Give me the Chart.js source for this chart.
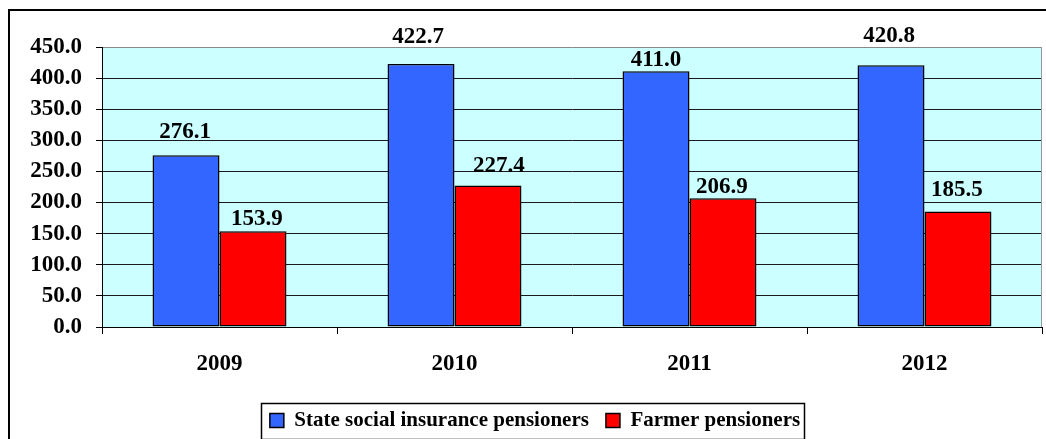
<!DOCTYPE html>
<html>
<head>
<meta charset="utf-8">
<script src="https://cdn.jsdelivr.net/npm/chart.js@4.4.1/dist/chart.umd.min.js"></script>
<style>
  html, body { margin: 0; padding: 0; background: #ffffff; }
  #wrap { width: 1046px; height: 439px; position: relative; }
</style>
</head>
<body>
<div id="wrap"><canvas id="c" width="1046" height="439"></canvas></div>
<script>
const categories = ['2009', '2010', '2011', '2012'];
const stateSocialInsurance = [276.1, 422.7, 411.0, 420.8];
const farmerPensioners = [153.9, 227.4, 206.9, 185.5];
const seriesNames = ['State social insurance pensioners', 'Farmer pensioners'];
const yTicks = [0, 50, 100, 150, 200, 250, 300, 350, 400, 450];

const FONT = '"Liberation Serif", "Times New Roman", serif';

// label placement tweaks (pixels relative to bar top / centre), per dataset
const labelStyle = {
  dy: [[17, 21, 5, 23], [6, 14, 5, 16]],
  dx: [[-1, -3, 0, -2], [4, 11, -1, -1]]
};

const framePlugin = {
  id: 'frame',
  beforeDraw(chart) {
    const {ctx, chartArea: a} = chart;
    ctx.save();
    ctx.fillStyle = '#ffffff';
    ctx.fillRect(0, 0, chart.width, chart.height);
    ctx.fillStyle = '#CCFFFF';
    ctx.fillRect(a.left, a.top, a.right - a.left, a.bottom - a.top);
    ctx.restore();
  },
  afterDraw(chart) {
    const {ctx, chartArea: a} = chart;
    ctx.save();
    ctx.strokeStyle = '#000000';
    ctx.lineWidth = 2;
    ctx.strokeRect(9, 10, chart.width + 20, chart.height + 20);
    ctx.strokeStyle = '#999999';
    ctx.lineWidth = 1;
    ctx.beginPath();
    ctx.moveTo(Math.round(a.right) - 0.5, a.top);
    ctx.lineTo(Math.round(a.right) - 0.5, a.bottom);
    ctx.stroke();
    const lg = chart.legend;
    if (lg && lg.legendHitBoxes && lg.legendHitBoxes.length) {
      const hb = lg.legendHitBoxes;
      const first = hb[0], last = hb[hb.length - 1];
      const cy = first.top + first.height / 2;
      const x0 = first.left - 9, x1 = last.left + last.width + 4;
      ctx.strokeStyle = '#000000';
      ctx.lineWidth = 1.5;
      ctx.strokeRect(Math.round(x0) + 0.5, Math.round(cy - 18) + 0.5, Math.round(x1 - x0), 36);
    }
    ctx.restore();
  }
};

const labelPlugin = {
  id: 'valueLabels',
  afterDatasetsDraw(chart) {
    const {ctx} = chart;
    ctx.save();
    ctx.font = 'bold 23px ' + FONT;
    ctx.fillStyle = '#000000';
    ctx.textAlign = 'center';
    ctx.textBaseline = 'alphabetic';
    chart.data.datasets.forEach((ds, di) => {
      const meta = chart.getDatasetMeta(di);
      meta.data.forEach((el, i) => {
        const v = ds.data[i];
        ctx.fillText(v.toFixed(1), el.x + labelStyle.dx[di][i], el.y - labelStyle.dy[di][i]);
      });
    });
    ctx.restore();
  }
};

new Chart(document.getElementById('c'), {
  type: 'bar',
  data: {
    labels: categories,
    datasets: [
      {
        label: seriesNames[0],
        data: stateSocialInsurance,
        backgroundColor: '#3366FF',
        borderColor: '#000000',
        borderWidth: 1.5,
        borderSkipped: false,
        inflateAmount: 0,
        barPercentage: 1.0,
        categoryPercentage: 0.57
      },
      {
        label: seriesNames[1],
        data: farmerPensioners,
        backgroundColor: '#FF0000',
        borderColor: '#000000',
        borderWidth: 1.5,
        borderSkipped: false,
        inflateAmount: 0,
        barPercentage: 1.0,
        categoryPercentage: 0.57
      }
    ]
  },
  options: {
    responsive: false,
    animation: false,
    devicePixelRatio: 1,
    layout: { padding: { top: 47, right: 4, left: 28, bottom: -2 } },
    plugins: {
      legend: {
        display: true,
        position: 'bottom',
        labels: {
          color: '#000000',
          font: { family: FONT, size: 21, weight: 'bold', lineHeight: 1.0 },
          boxWidth: 14,
          boxHeight: 14,
          padding: 17
        }
      },
      tooltip: { enabled: false },
      title: { display: false }
    },
    scales: {
      x: {
        grid: {
          display: true,
          offset: true,
          drawOnChartArea: false,
          drawTicks: true,
          tickLength: 7,
          tickColor: '#000000',
          color: '#000000'
        },
        border: { display: true, color: '#000000', width: 1 },
        ticks: {
          color: '#000000',
          font: { family: FONT, size: 23, weight: 'bold' },
          padding: 16
        },
        afterFit(scale) { scale.height = 66; }
      },
      y: {
        min: 0,
        max: 450,
        afterBuildTicks(scale) { scale.ticks = yTicks.map(v => ({ value: v })); },
        grid: {
          display: true,
          drawTicks: true,
          tickLength: 6,
          tickColor: '#000000',
          color: (ctx) => (ctx.tick && ctx.tick.value === 450) ? '#888888' : '#1a1a1a',
          lineWidth: 1
        },
        border: { display: true, color: '#000000', width: 1 },
        ticks: {
          color: '#000000',
          font: { family: FONT, size: 23, weight: 'bold' },
          padding: 14,
          callback: (v) => Number(v).toFixed(1)
        },
        afterFit(scale) { scale.width = 74; }
      }
    }
  },
  plugins: [framePlugin, labelPlugin]
});
</script>
</body>
</html>
